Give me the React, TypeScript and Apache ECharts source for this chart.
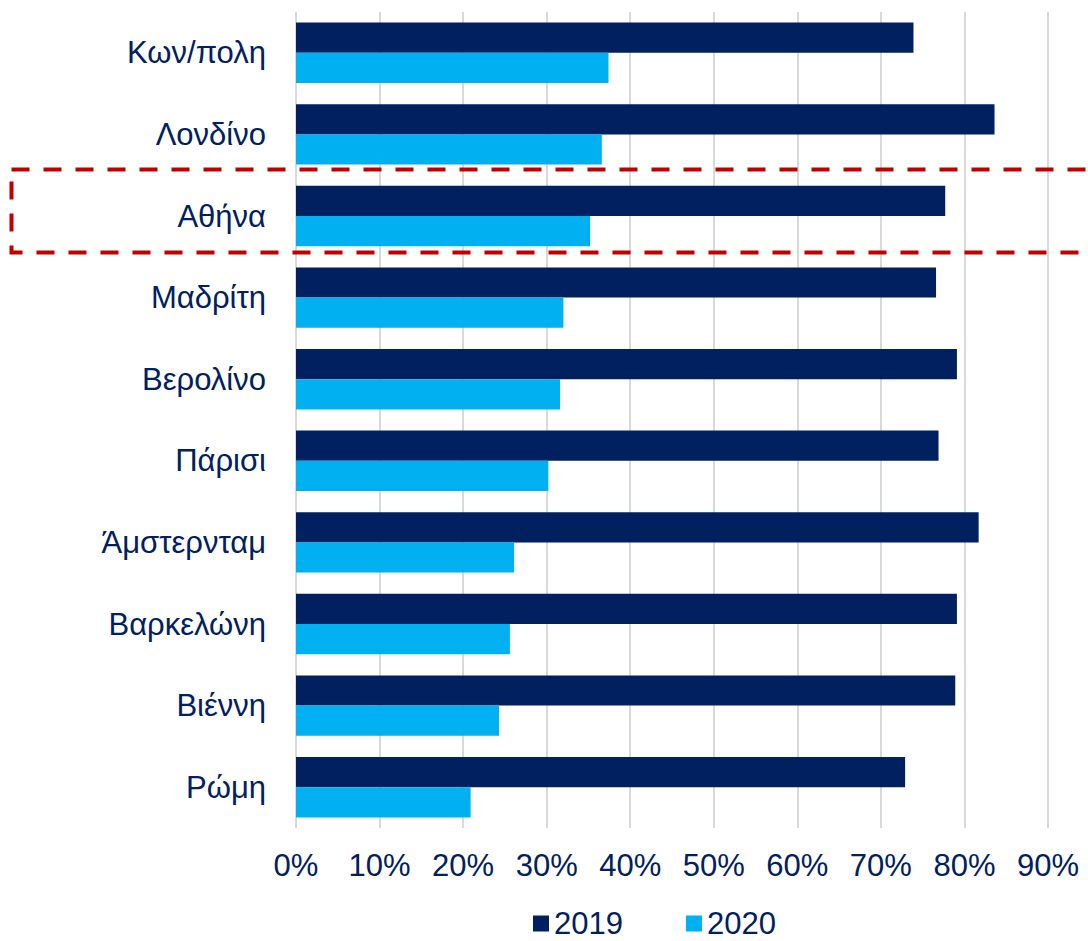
import React, { useEffect, useRef } from "react";
import * as echarts from "echarts";

const categories = ["Κων/πολη", "Λονδίνο", "Αθήνα", "Μαδρίτη", "Βερολίνο", "Πάρισι", "Άμστερνταμ", "Βαρκελώνη", "Βιέννη", "Ρώμη"];
const values2019 = [73.9, 83.6, 77.7, 76.6, 79.1, 76.9, 81.7, 79.1, 78.9, 72.9];
const values2020 = [37.4, 36.6, 35.2, 32.0, 31.6, 30.2, 26.1, 25.6, 24.3, 20.9];
const seriesNames = ["2019", "2020"];

const FONT = "'Liberation Sans', Arial, sans-serif";
const TEXT = "#002060";

export default function App() {
  const ref = useRef<HTMLDivElement>(null);
  useEffect(() => {
    if (!ref.current) return;
    const chart = echarts.init(ref.current, undefined, { renderer: "svg" });
    chart.setOption({
      animation: false,
      backgroundColor: "#ffffff",
      grid: { left: 296, right: 40, top: 12, bottom: 113, containLabel: false },
      legend: {
        data: seriesNames,
        left: 533,
        top: 908,
        padding: 0,
        itemWidth: 16,
        itemHeight: 16,
        itemGap: 63,
        icon: "rect",
        textStyle: { fontFamily: FONT, fontSize: 31, color: TEXT },
      },
      xAxis: {
        type: "value",
        min: 0,
        max: 90,
        interval: 10,
        axisLine: { show: false },
        axisTick: { show: false },
        splitLine: { show: true, lineStyle: { color: "#d9d9d9", width: 2 } },
        axisLabel: { formatter: "{value}%", fontFamily: FONT, fontSize: 31, color: TEXT, margin: 22 },
      },
      yAxis: {
        type: "category",
        data: categories,
        inverse: true,
        axisLine: { show: false },
        axisTick: { show: false },
        axisLabel: { fontFamily: FONT, fontSize: 31, color: TEXT, margin: 30 },
      },
      series: [
        {
          name: seriesNames[0],
          type: "bar",
          data: values2019,
          barGap: "0%",
          barCategoryGap: "26%",
          itemStyle: { color: "#002060" },
        },
        {
          name: seriesNames[1],
          type: "bar",
          data: values2020,
          barGap: "0%",
          barCategoryGap: "26%",
          itemStyle: { color: "#00B0F0" },
        },
      ],
      graphic: [
        {
          type: "rect",
          z: 100,
          shape: { x: 11.5, y: 169.5, width: 1100, height: 83 },
          style: { fill: "none", stroke: "#C00000", lineWidth: 4, lineDash: [18, 14] },
        },
      ],
    });
    return () => chart.dispose();
  }, []);
  return <div ref={ref} style={{ position: "fixed", left: 0, top: 0, width: 1088, height: 941 }} />;
}
